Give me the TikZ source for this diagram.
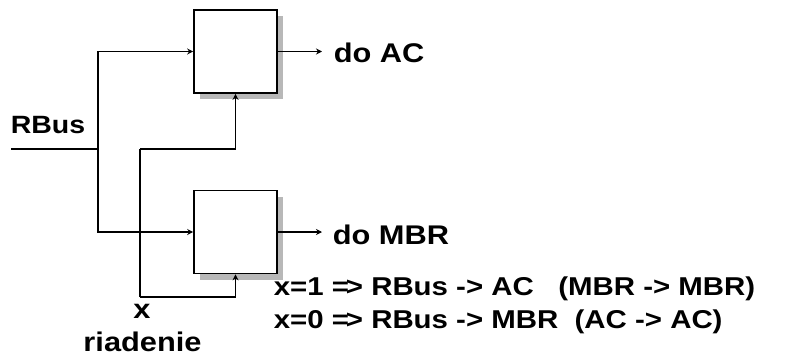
\documentclass[tikz,border=0pt]{standalone}
\usepackage{fontspec}
\setmainfont[FakeStretch=1.14]{Liberation Sans}
\usepackage{tikz}
\usetikzlibrary{arrows.meta,positioning,shadows}

\begin{document}
\begin{tikzpicture}[x=1pt, y=-1pt, >={Stealth[length=6pt,width=6pt]}, line width=1.6pt,
  blok/.style={draw, fill=white, minimum size=83pt, inner sep=0pt,
    drop shadow={shadow xshift=6pt, shadow yshift=-6pt, fill=black!28, opacity=1}},
  popis/.style={inner sep=0pt, font=\bfseries\fontsize{25}{28}\selectfont}]
\useasboundingbox (0,0) rectangle (790,356);

% dva multiplexory
\node[blok] (mac) at (235.5,51.5) {};
\node[blok] (mmbr) at (235.5,232) {};

% vystupy
\node[popis, anchor=base west, inner xsep=11pt, font=\bfseries\fontsize{27}{30}\selectfont] (doac) at (322,62) {do AC};
\node[popis, anchor=base west, inner xsep=10pt, font=\bfseries\fontsize{27}{30}\selectfont] (dombr) at (322,244) {do MBR};
\draw[->] (mac.east) -- (mac.east -| doac.west);
\draw[->] (mmbr.east) -- (mmbr.east -| dombr.west);

% zbernica RBus
\node[popis, anchor=base west] (rbus) at (10,133) {RBus};
\coordinate (vstup) at (11,149);
\coordinate (rozv) at (98,149);
\draw (vstup) -- (rozv);
\draw[->] (rozv) |- (mac.west);
\draw[->] (rozv) |- (mmbr.west);

% riadiaci signal x
\node[popis, anchor=base, font=\bfseries\fontsize{27}{30}\selectfont] (x) at (142,318) {x};
\node[popis, anchor=base, font=\bfseries\fontsize{27}{30}\selectfont] (riad) at (142.5,351) {riadenie};
\coordinate (xdole) at (140,297);
\coordinate (xhore) at (140,149);
\draw (xdole) -- (xhore);
\draw[->] (xhore) -| (mac.south);
\draw[->] (xdole) -| (mmbr.south);

% funkcia
\node[popis, anchor=base west, font=\bfseries\fontsize{25.8}{28}\selectfont] (f1) at (273,295)
  {x=1 =\kern-0.12em> RBus -> AC \ \ (MBR -> MBR)};
\node[popis, anchor=base west, font=\bfseries\fontsize{25.8}{28}\selectfont] (f0) at (273,328)
  {x=0 =\kern-0.12em> RBus -> MBR \ (AC -> AC)};
\end{tikzpicture}
\end{document}
